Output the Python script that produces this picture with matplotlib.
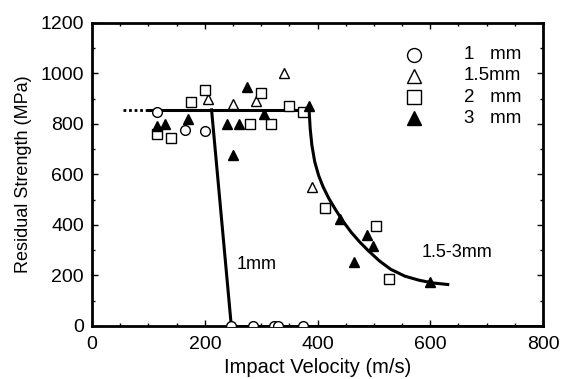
import matplotlib.pyplot as plt
import numpy as np

plt.rcParams['font.family'] = ['Liberation Sans', 'DejaVu Sans']

# 1 mm (circles)
c1_x = [115, 165, 200, 246, 285, 322, 330, 374]
c1_y = [845, 775, 770, 0, 0, 0, 0, 0]
# 1.5 mm (open triangles)
t15_x = [205, 250, 290, 340, 390]
t15_y = [900, 880, 890, 1000, 550]
# 2 mm (open squares)
s2_x = [115, 140, 175, 200, 280, 300, 317, 350, 375, 413, 504, 527]
s2_y = [760, 745, 885, 935, 800, 920, 800, 870, 845, 467, 396, 186]
# 3 mm (filled triangles)
t3_x = [115, 130, 170, 240, 260, 250, 275, 305, 385, 440, 465, 488, 498, 600]
t3_y = [790, 800, 820, 800, 800, 675, 945, 840, 870, 425, 255, 360, 318, 172]

# fitted lines
plateau = 855
dot_x = [55, 100]
flat_x = [100, 385]
line1_x = [212, 247]
line1_y = [855, 0]
curve_x = [385, 387, 390, 395, 402, 410, 420, 432, 445, 460, 475, 490, 510, 530, 555, 580, 605, 631]
curve_y = [855, 780, 715, 650, 595, 550, 505, 460, 415, 370, 332, 298, 257, 224, 197, 181, 170, 164]

fig = plt.figure(figsize=(5.65, 3.79), dpi=100)
ax = fig.add_axes([0.163, 0.14, 0.798, 0.80])

ax.plot(dot_x, [plateau, plateau], color='black', lw=2, ls=(0, (1, 1)))
ax.plot(flat_x, [plateau, plateau], color='black', lw=2.2)
ax.plot(line1_x, line1_y, color='black', lw=2.2)
ax.plot([247, 800], [0, 0], color='black', lw=2)
ax.plot(curve_x, curve_y, color='black', lw=2.2)

ax.plot(c1_x, c1_y, 'o', ms=7, mfc='white', mec='black', mew=1, ls='none', zorder=5)
ax.plot(t15_x, t15_y, '^', ms=7, mfc='white', mec='black', mew=1, ls='none', zorder=5)
ax.plot(s2_x, s2_y, 's', ms=7, mfc='white', mec='black', mew=1, ls='none', zorder=5)
ax.plot(t3_x, t3_y, '^', ms=7, mfc='black', mec='black', ls='none', zorder=5)

# legend drawn by hand
leg_m = [('o', 'white'), ('^', 'white'), ('s', 'white'), ('^', 'black')]
leg_t = ['1   mm', '1.5mm', '2   mm', '3   mm']
for i, ((m, fc), t) in enumerate(zip(leg_m, leg_t)):
    yy = 0.895 - i * 0.07
    ax.plot(0.715, yy, m, ms=10, mfc=fc, mec='black', mew=1, transform=ax.transAxes, clip_on=False)
    ax.text(0.825, yy, t, fontsize=13.5, va='center', ha='left', transform=ax.transAxes)

ax.text(257, 242, '1mm', fontsize=13, va='center')
ax.text(585, 289, '1.5-3mm', fontsize=13, va='center')

ax.set_xlim(0, 800)
ax.set_ylim(0, 1200)
ax.set_xticks([0, 200, 400, 600, 800])
ax.set_yticks([0, 200, 400, 600, 800, 1000, 1200])
ax.set_xticks(np.arange(0, 801, 50), minor=True)
ax.set_yticks(np.arange(0, 1201, 100), minor=True)
ax.tick_params(which='both', direction='in', top=True, right=True, labelsize=14, width=1)
ax.tick_params(axis='x', pad=7)
ax.tick_params(axis='y', pad=6)
ax.tick_params(which='major', length=4)
ax.tick_params(which='minor', length=2.5)
for s in ax.spines.values():
    s.set_linewidth(2)
ax.set_xlabel('Impact Velocity (m/s)', fontsize=14.5, labelpad=4)
ax.set_ylabel('Residual Strength (MPa)', fontsize=13, labelpad=6)

fig.savefig('out.png', dpi=100)
